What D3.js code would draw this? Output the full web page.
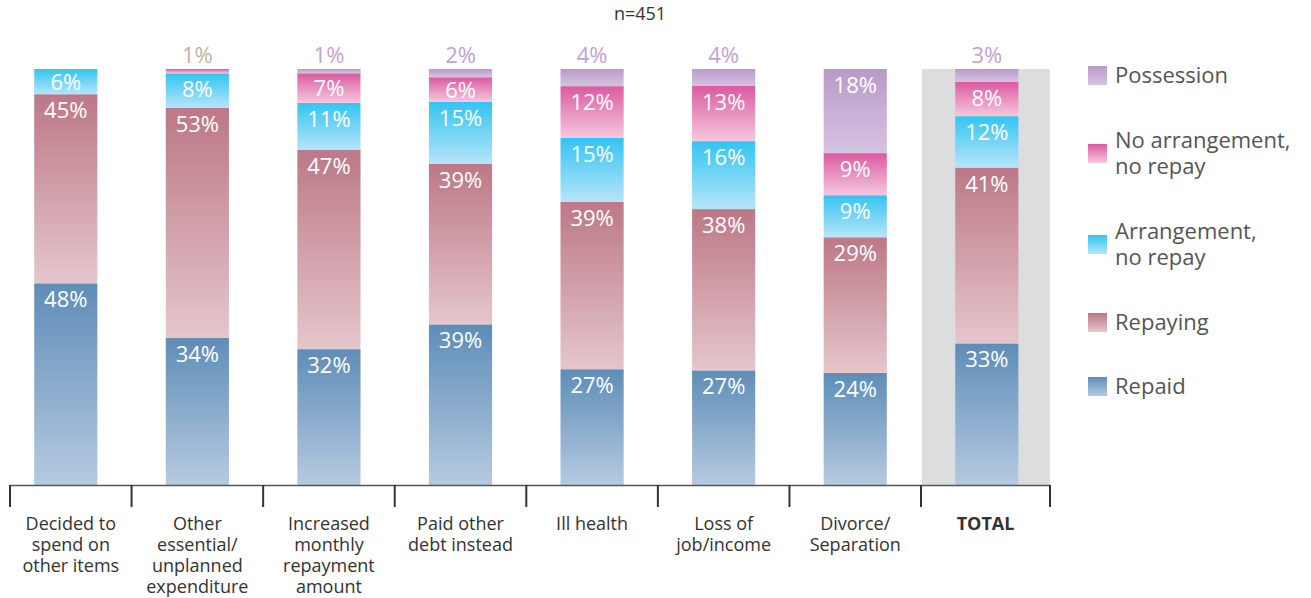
<!DOCTYPE html>
<html><head><meta charset="utf-8">
<script src="https://cdn.jsdelivr.net/npm/d3@7"></script>
<style>body{margin:0;background:#fff}svg{display:block}</style>
</head><body><svg id="c" width="1311" height="598"></svg>
<script>
const categories = [
  ["Decided to","spend on","other items"],
  ["Other","essential/","unplanned","expenditure"],
  ["Increased","monthly","repayment","amount"],
  ["Paid other","debt instead"],
  ["Ill health"],
  ["Loss of","job/income"],
  ["Divorce/","Separation"],
  ["TOTAL"]
];
const seriesNames = ["Repaid","Repaying","Arrangement, no repay","No arrangement, no repay","Possession"];
const repaid      = [48,34,32,39,27,27,24,33];
const repaying    = [45,53,47,39,39,38,29,41];
const arrangement = [6,8,11,15,15,16,9,12];
const noArrange   = [0,1,7,6,12,13,9,8];
const possession  = [0,0,1,2,4,4,18,3];
const legendLabels = [["Possession"],["No arrangement,","no repay"],["Arrangement,","no repay"],["Repaying"],["Repaid"]];
const nLabel = "n=451";

const gradTop = ["#5e8db7","#bc7886","#33c4f1","#db5aa0","#b99ac9"];
const gradBot = ["#b6cae1","#e5c6cc","#b6e5f9","#f5c8de","#d6c3e2"];
const outsideColor = ["#c4b1a5","#c1a2d2"];

const svg = d3.select("#c");
const keys = ["k0","k1","k2","k3","k4"];
const rows = categories.map((c,i)=>({i, k0:repaid[i],k1:repaying[i],k2:arrangement[i],k3:noArrange[i],k4:possession[i]}));
const stack = d3.stack().keys(keys).offset(d3.stackOffsetExpand)(rows);

const x = d3.scaleBand().domain(d3.range(categories.length)).range([0,1052.6]).paddingInner(0.52).paddingOuter(0.26);
const y = d3.scaleLinear().domain([0,1]).range([485,69]);

const defs = svg.append("defs");
keys.forEach((k,j)=>{
  const g = defs.append("linearGradient").attr("id","g"+j).attr("x1",0).attr("x2",0).attr("y1",0).attr("y2",1);
  g.append("stop").attr("offset","0%").attr("stop-color",gradTop[j]);
  g.append("stop").attr("offset","100%").attr("stop-color",gradBot[j]);
});

const step = x.step();
svg.append("rect").attr("x",922).attr("y",y(1)).attr("width",1050-922).attr("height",y(0)-y(1)).attr("fill","#dcdddf");

const font = "'Open Sans', sans-serif";
stack.forEach((s,j)=>{
  s.forEach((d,i)=>{
    const val = rows[i][keys[j]];
    if(!val) return;
    const y0 = y(d[1]), y1 = y(d[0]);
    const h = y1-y0;
    svg.append("rect").attr("x",x(i)).attr("y",y0).attr("width",x.bandwidth()).attr("height",h).attr("fill","url(#g"+j+")");
    const isTop = d[1] >= 0.9999;
    const cx = x(i)+x.bandwidth()/2;
    if(isTop && val<=4){
      svg.append("text").attr("x",cx).attr("y",y0-6).attr("text-anchor","middle")
        .attr("font-family",font).attr("font-size",22).attr("fill", j===3?outsideColor[0]:outsideColor[1])
        .text(val+"%");
    } else {
      const cy = y0 + Math.min(16, h/2);
      svg.append("text").attr("x",cx).attr("y",cy).attr("dy","0.36em").attr("text-anchor","middle")
        .attr("font-family",font).attr("font-size",22).attr("fill","#fff").text(val+"%");
    }
  });
});

const ax = svg.append("g");
ax.append("line").attr("x1",10).attr("x2",1050).attr("y1",485.5).attr("y2",485.5).attr("stroke","#555").attr("stroke-width",1.5);
const ticks = d3.range(categories.length+1).map(i=>Math.max(10,Math.min(1050, i*step)));
ticks.forEach(t=>{
  ax.append("line").attr("x1",t).attr("x2",t).attr("y1",485).attr("y2",507).attr("stroke","#333").attr("stroke-width",2);
});
categories.forEach((lines,i)=>{
  const t = ax.append("text").attr("text-anchor","middle").attr("font-family",font)
    .attr("font-size",18).attr("fill","#333").attr("font-weight", i===categories.length-1?"bold":"normal");
  lines.forEach((l,k)=>t.append("tspan").attr("x",(ticks[i]+ticks[i+1])/2).attr("y",530+k*21).text(l));
});

svg.append("text").attr("x",640).attr("y",20).attr("text-anchor","middle").attr("font-family",font)
  .attr("font-size",18).attr("fill","#333").text(nLabel);

const legY = [75,153,244,322,386];
legendLabels.forEach((lab,k)=>{
  const j = 4-k;
  const cy = legY[k];
  svg.append("rect").attr("x",1088).attr("y",cy-9).attr("width",19).attr("height",19).attr("fill","url(#g"+j+")");
  const t = svg.append("text").attr("font-family",font).attr("font-size",22).attr("fill","#555");
  const n = lab.length;
  lab.forEach((l,m)=>t.append("tspan").attr("x",1115).attr("y",cy + (m-(n-1)/2)*26).attr("dy","0.36em").text(l));
});
</script></body></html>
